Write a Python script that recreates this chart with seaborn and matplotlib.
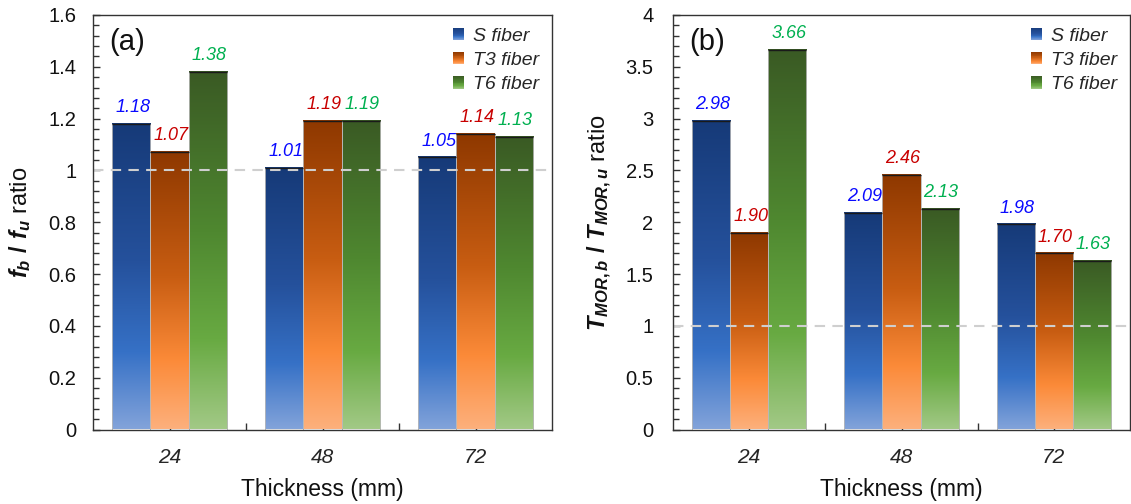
import numpy as np
import pandas as pd
import matplotlib
matplotlib.use("Agg")
import matplotlib.pyplot as plt
import seaborn as sns
from matplotlib.colors import LinearSegmentedColormap
from matplotlib.legend_handler import HandlerBase
from matplotlib.patches import Rectangle, Patch
from matplotlib.ticker import MultipleLocator, FixedLocator, FuncFormatter

# ---------------- data ----------------
thickness = ["24", "48", "72"]
fibers = ["S fiber", "T3 fiber", "T6 fiber"]

fb_S = [1.18, 1.01, 1.05]
fb_T3 = [1.07, 1.19, 1.14]
fb_T6 = [1.38, 1.19, 1.13]

tm_S = [2.98, 2.09, 1.98]
tm_T3 = [1.90, 2.46, 1.70]
tm_T6 = [3.66, 2.13, 1.63]

label_colors = ["#0a0aff", "#c80000", "#00b050"]

grad_stops = [
    [(0.0, "#163a78"), (0.45, "#25519c"), (0.75, "#3671c6"), (1.0, "#82a3da")],
    [(0.0, "#8e3800"), (0.45, "#c85d12"), (0.75, "#fb8a38"), (1.0, "#fdb07c")],
    [(0.0, "#3a5a24"), (0.45, "#4f8830"), (0.75, "#68aa42"), (1.0, "#a2c986")],
]
cmaps = [LinearSegmentedColormap.from_list(f"g{i}", s) for i, s in enumerate(grad_stops)]


def long_df(s, t3, t6):
    rows = []
    for f, vals in zip(fibers, [s, t3, t6]):
        for t, v in zip(thickness, vals):
            rows.append({"thickness": t, "fiber": f, "value": v})
    return pd.DataFrame(rows)


df_a = long_df(fb_S, fb_T3, fb_T6)
df_b = long_df(tm_S, tm_T3, tm_T6)

# ---------------- style ----------------
sns.set_theme(style="white")
plt.rcParams.update({
    "font.family": ["Liberation Sans", "DejaVu Sans"],
    "mathtext.fontset": "custom",
    "mathtext.it": "Liberation Sans:italic:bold",
    "mathtext.rm": "Liberation Sans:bold",
    "mathtext.bf": "Liberation Sans:bold",
    "axes.edgecolor": "#333333",
    "axes.linewidth": 1.0,
})


class GradHandler(HandlerBase):
    def __init__(self, cmap):
        super().__init__()
        self.cmap = cmap

    def create_artists(self, legend, orig_handle, xdescent, ydescent,
                       width, height, fontsize, trans):
        n = 14
        arts = []
        for i in range(n):
            y0 = -ydescent + height * (1 - (i + 1) / n)
            arts.append(Rectangle((-xdescent, y0), width, height / n + 0.05,
                                  facecolor=self.cmap((i + 0.5) / n),
                                  edgecolor="none", transform=trans))
        return arts


fig = plt.figure(figsize=(11.31, 5.04), dpi=100)
ax_a = fig.add_axes([93 / 1131, 1 - 429.5 / 504, 459 / 1131, 414.5 / 504])
ax_b = fig.add_axes([673 / 1131, 1 - 429.5 / 504, 457 / 1131, 414.5 / 504])


def draw_panel(ax, df, ymax, major, minor, ylabel, tag, ypad):
    sns.barplot(data=df, x="thickness", y="value", hue="fiber",
                order=thickness, hue_order=fibers, width=0.75,
                palette=["#2b5fb3", "#f0802a", "#5fa03b"],
                ax=ax, legend=False, errorbar=None, zorder=2)
    for ci, cont in enumerate(ax.containers):
        for bar in cont:
            x0 = bar.get_x()
            w = bar.get_width()
            h = bar.get_height()
            bar.set_facecolor("none")
            bar.set_edgecolor("#b8b8b8")
            bar.set_linewidth(0.6)
            grad = np.linspace(0, 1, 256).reshape(-1, 1)
            ax.imshow(grad, cmap=cmaps[ci], aspect="auto", origin="upper",
                      extent=[x0, x0 + w, 0, h], zorder=1.5,
                      interpolation="bilinear")
            ax.plot([x0, x0 + w], [h, h], color="#1a1a1a", lw=1.0,
                    solid_capstyle="butt", zorder=3)
            ax.annotate(f"{h:.2f}", xy=(x0 + w / 2, h), xytext=(1, 8.5),
                        textcoords="offset points", ha="center",
                        va="baseline", fontsize=13, style="italic",
                        color=label_colors[ci], zorder=5)
    ax.axhline(1.0, color="#cfcfcf", lw=1.5, dashes=(5, 3.5), zorder=4)
    ax.set_xlim(-0.5, 2.5)
    ax.set_ylim(0, ymax)

    ax.xaxis.set_major_locator(FixedLocator([0, 1, 2]))
    ax.set_xticklabels(thickness, fontsize=15, style="italic")
    ax.xaxis.set_minor_locator(FixedLocator([0.5, 1.5]))
    ax.yaxis.set_major_locator(MultipleLocator(major))
    ax.yaxis.set_minor_locator(MultipleLocator(minor))
    ax.yaxis.set_major_formatter(FuncFormatter(lambda v, p: f"{v:g}"))
    ax.tick_params(axis="both", which="both", direction="in", color="#333333",
                   width=1.0, top=False, right=False, left=True, bottom=True)
    ax.tick_params(axis="x", which="both", length=5, pad=13)
    ax.tick_params(axis="y", which="major", length=5, labelsize=14.5, pad=ypad)
    ax.tick_params(axis="y", which="minor", length=4)
    for lab in ax.get_yticklabels():
        lab.set_color("#111111")

    ax.set_xlabel("Thickness (mm)", fontsize=16.5, color="#111111")
    ax.xaxis.set_label_coords(0.5, -0.118)
    ax.set_ylabel(ylabel, fontsize=17, color="#111111")
    ax.yaxis.set_label_coords(-0.13, 0.5)

    ax.text(0.035, 0.968, tag, transform=ax.transAxes, fontsize=21,
            ha="left", va="top", color="#111111")

    handles = [Patch(label=f) for f in fibers]
    hmap = {h: GradHandler(c) for h, c in zip(handles, cmaps)}
    ax.legend(handles=handles, labels=fibers, handler_map=hmap,
              loc="upper right", frameon=False,
              prop={"style": "italic", "size": 14},
              handlelength=0.6, handleheight=0.6, handletextpad=0.45,
              labelspacing=0.38, borderaxespad=0.25)
    for s in ax.spines.values():
        s.set_visible(True)
        s.set_color("#333333")
        s.set_zorder(6)


draw_panel(ax_a, df_a, 1.6, 0.2, 0.04, r"$f_b\ /\ f_u$ ratio", "(a)", 12)
draw_panel(ax_b, df_b, 4.0, 0.5, 0.1, r"$T_{MOR,b}\ /\ T_{MOR,u}$ ratio", "(b)", 14)

fig.savefig("out.png", dpi=100)
